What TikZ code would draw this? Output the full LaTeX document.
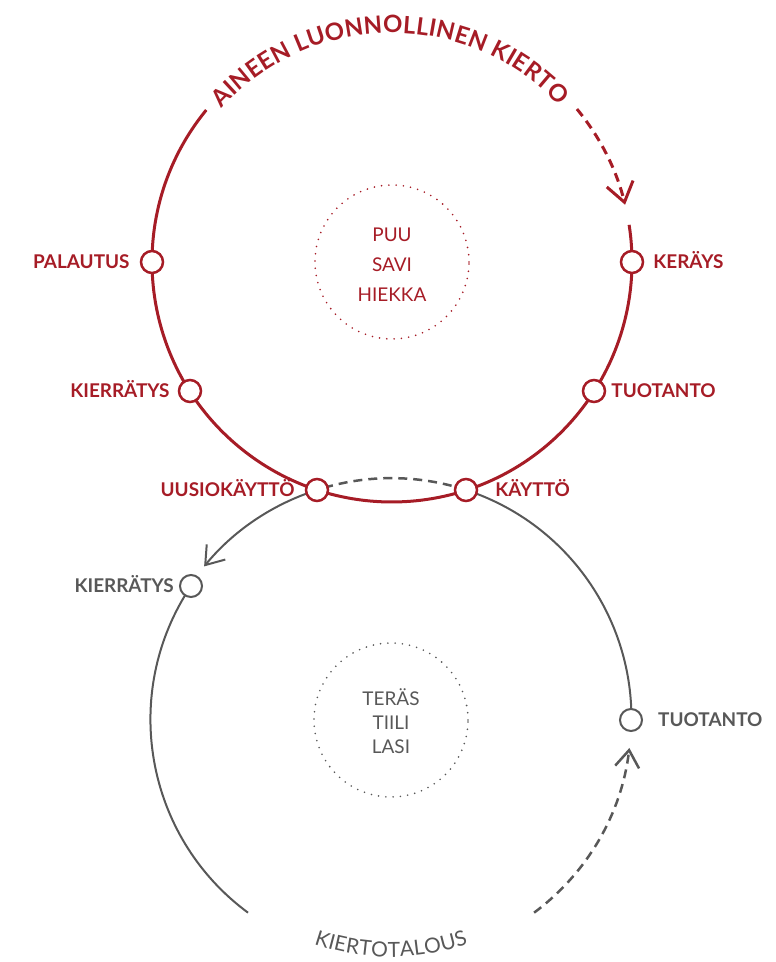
\documentclass[tikz,border=0pt]{standalone}
\usepackage{fontspec}
\setmainfont{Lato}
\usetikzlibrary{arrows.meta,decorations.text,positioning,backgrounds}

\definecolor{kred}{RGB}{166,28,38}
\definecolor{kgray}{RGB}{88,88,88}

\newcommand\ttlfont{\fontsize{24}{26}\selectfont\bfseries}
\newcommand\ktfont{\fontsize{21}{22}\selectfont}

\tikzset{
  redline/.style={draw=kred, line width=3bp},
  grayline/.style={draw=kgray, line width=2bp},
  reddash/.style={redline, dash pattern=on 9bp off 6bp},
  graydash/.style={draw=kgray, line width=2.5bp, dash pattern=on 9bp off 6bp},
  redbarb/.style={-{Straight Barb[length=19bp, width=27bp]}},
  graybarb/.style={-{Straight Barb[length=17bp, width=24bp]}},
  rednode/.style={circle, draw=kred, fill=white, line width=2.5bp, minimum size=22bp, inner sep=0pt},
  graynode/.style={circle, draw=kgray, fill=white, line width=2bp, minimum size=22bp, inner sep=0pt},
  redlabel/.style={text=kred, inner sep=0pt, text height=13bp, text depth=0pt, font=\fontsize{19}{20}\selectfont\bfseries},
  graylabel/.style={redlabel, text=kgray},
  dotring/.style={line width=1.8bp, line cap=round, dash pattern=on 0bp off 7.3bp},
}

\begin{document}
\begin{tikzpicture}[x=1bp, y=1bp]
\useasboundingbox (0,0) rectangle (776,962);
\coordinate (T) at (392,700);
\coordinate (B) at (391,242);

% inner rings with materials
\draw[kred, dotring] (T) circle[radius=77];
\node[text=kred, font=\fontsize{19}{30}\selectfont, align=center] (redmat) at (392,697) {PUU\\SAVI\\HIEKKA};
\draw[kgray, dotring] (B) circle[radius=77];
\node[text=kgray, font=\fontsize{19}{24}\selectfont, align=center] (graymat) at (391,241) {TERÄS\\TIILI\\LASI};

% stations on the natural cycle
\node[rednode] (palautus) at (152,700) {};
\node[rednode] (kerays) at (632,700) {};
\node[rednode] (kierrA) at (190,571) {};
\node[rednode] (tuotA) at (594,571) {};
\node[rednode] (uusio) at (317,472) {};
\node[rednode] (kaytto) at (466,472) {};
% stations on the circular economy
\node[graynode] (kierrB) at (191,376) {};
\node[graynode] (tuotB) at (631,242) {};

% labels
\node[redlabel, left=10bp of palautus] (lpalautus) {PALAUTUS};
\node[redlabel, right=9bp of kerays] (lkerays) {KERÄYS};
\node[redlabel, left=8bp of kierrA] (lkierrA) {KIERRÄTYS};
\node[redlabel, right=5bp of tuotA] (ltuotA) {TUOTANTO};
\node[redlabel, left=10bp of uusio] (luusio) {UUSIOKÄYTTÖ};
\node[redlabel, right=17bp of kaytto] (lkaytto) {KÄYTTÖ};
\node[graylabel, left=5bp of kierrB] (lkierrB) {KIERRÄTYS};
\node[graylabel, right=15bp of tuotB] (ltuotB) {TUOTANTO};

% curved titles
\begin{scope}
\ttlfont
\path[decorate, decoration={text along path, text align=fit to path, text color=kred,
  text={|\ttlfont|AINEEN LUONNOLLINEN KIERTO}}]
  (T) ++(138:229) arc[start angle=138, end angle=43, radius=229];
\end{scope}
\begin{scope}
\ktfont
\path[decorate, decoration={text along path, text align=fit to path, text color=kgray,
  text={|\ktfont|KIERTOTALOUS}}]
  (B) ++(251:237) arc[start angle=251, end angle=289, radius=237];
\end{scope}

\begin{scope}[on background layer]
% red ring
\draw[redline] (T) ++(140.7:240) arc[start angle=140.7, end angle=368.9, radius=240];
\draw[reddash, redbarb] (T) ++(39.6:240) arc[start angle=39.6, end angle=13.8, radius=240];
% gray ring
\draw[graydash] (kaytto.center) arc[start angle=71.9, end angle=107.6, radius=240];
\draw[grayline, graybarb] (uusio.center) arc[start angle=107.6, end angle=140.6, radius=240];
\draw[grayline] (kierrB.center) arc[start angle=146.2, end angle=233.6, radius=240];
\draw[grayline] (kaytto.center) arc[start angle=71.9, end angle=0, radius=240];
\draw[graydash, graybarb] (B) ++(-53.4:240) arc[start angle=-53.4, end angle=-6.7, radius=240];
\end{scope}
\end{tikzpicture}
\end{document}
